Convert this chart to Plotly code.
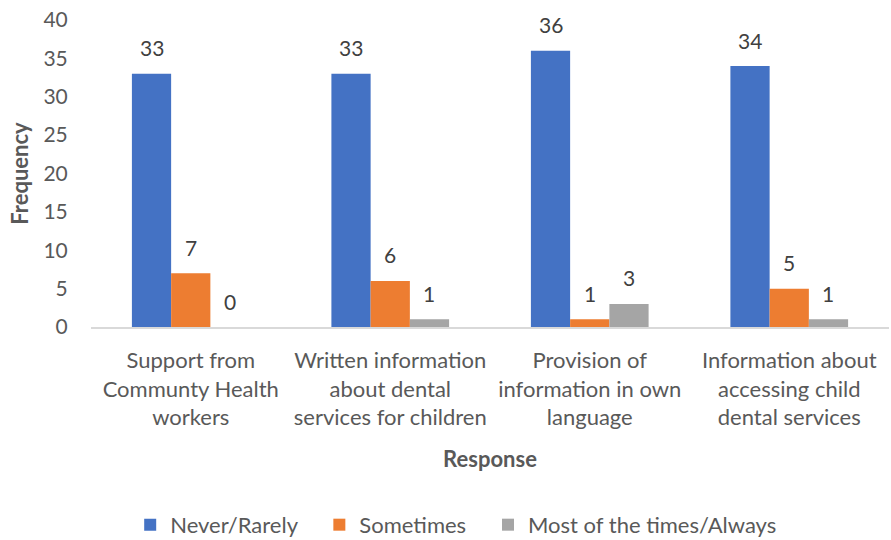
import plotly.graph_objects as go

categories = [
    "Support from<br>Communty Health<br>workers",
    "Written information<br>about dental<br>services for children",
    "Provision of<br>information in own<br>language",
    "Information about<br>accessing child<br>dental services",
]
series_names = ["Never/Rarely", "Sometimes", "Most of the times/Always"]
never_rarely = [33, 33, 36, 34]
sometimes = [7, 6, 1, 5]
most_always = [0, 1, 3, 1]
colors = ["#4472C4", "#ED7D31", "#A5A5A5"]
y_ticks = [0, 5, 10, 15, 20, 25, 30, 35, 40]

FONT = "Lato, Calibri, sans-serif"
TXT = "#595959"
PAD = "\u00a0\u00a0\u00a0"

fig = go.Figure()
all_series = [never_rarely, sometimes, most_always]
for i, (name, vals, col) in enumerate(zip(series_names, all_series, colors)):
    label = name + (PAD if i < len(series_names) - 1 else "")
    fig.add_trace(go.Bar(name=label, x=categories, y=vals, marker_color=col,
                         marker_line_width=0))

# value labels above bars
offsets = [-39, 0, 39]
for vals, off in zip(all_series, offsets):
    for cat, v in zip(categories, vals):
        fig.add_annotation(x=cat, y=v, text=str(v), showarrow=False,
                           xshift=off, yshift=26,
                           font=dict(family=FONT, size=21, color="#404040"))

fig.update_layout(
    width=891, height=540,
    margin=dict(l=91, r=2, t=20, b=213, autoexpand=False),
    plot_bgcolor="white", paper_bgcolor="white",
    barmode="group", bargap=0.41, bargroupgap=0,
    font=dict(family=FONT, size=21, color=TXT),
    showlegend=True,
    legend=dict(orientation="h", x=0.512, xanchor="center", xref="container",
                y=0.028, yref="container", yanchor="middle",
                font=dict(family=FONT, size=22, color=TXT),
                traceorder="normal"),
)
fig.update_yaxes(range=[0, 40], tickvals=y_ticks, showgrid=False, zeroline=False,
                 ticks="outside", ticklen=18, tickcolor="rgba(0,0,0,0)",
                 tickfont=dict(family=FONT, size=21, color=TXT),
                 title=dict(text="<b>Frequency</b>", font=dict(family=FONT, size=22, color=TXT),
                            standoff=8))
fig.update_xaxes(showline=True, linecolor="#D9D9D9", linewidth=1.5, showgrid=False,
                 ticks="outside", ticklen=13, tickcolor="rgba(0,0,0,0)",
                 tickfont=dict(family=FONT, size=22, color=TXT),
                 title=dict(text="<b>Response</b>", font=dict(family=FONT, size=22, color=TXT),
                            standoff=22))

fig.write_html("out.html")
